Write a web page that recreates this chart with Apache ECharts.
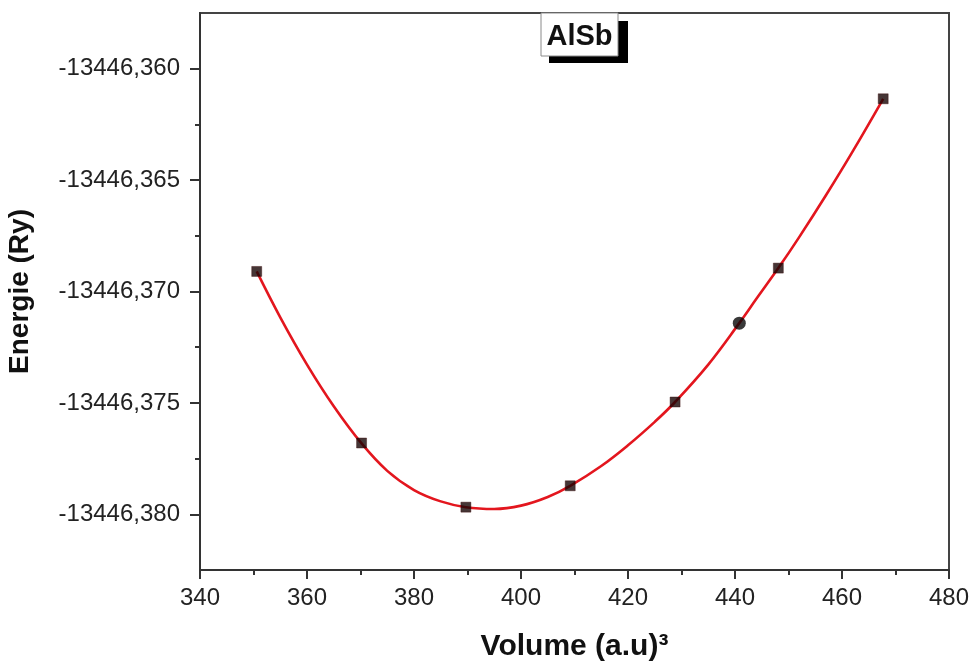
<!DOCTYPE html>
<html>
<head>
<meta charset="utf-8">
<script src="https://cdn.jsdelivr.net/npm/echarts@6/dist/echarts.min.js"></script>
<style>
  html, body { margin: 0; padding: 0; background: #fff; }
  #chart { width: 971px; height: 666px; }
</style>
</head>
<body>
<div id="chart"></div>
<script>
// E(V) points for AlSb (volume in a.u.^3, energy in Ry)
const volumes = [350.6, 370.2, 389.7, 409.2, 428.8, 448.1, 467.7];
const energies = [-13446.3691, -13446.3768, -13446.37968, -13446.37872, -13446.37496, -13446.36895, -13446.36135];

// extra point marked with a round symbol
const circleVolume = [440.8];
const circleEnergy = [-13446.37142];

// fitted E(V) curve, sampled along its length
const fitVolumes = [350.6, 355, 360, 365, 370.2, 375, 380, 385, 389.7, 395, 400, 405,
                    409.2, 415, 420, 425, 428.8, 435, 440.8, 444, 448.1, 452, 457, 462, 467.7];
const fitEnergies = [-13446.36910, -13446.37116, -13446.37328, -13446.37515, -13446.37682,
                     -13446.37805, -13446.37891, -13446.37942, -13446.37968, -13446.37976,
                     -13446.37961, -13446.37922, -13446.37872, -13446.37783, -13446.37690,
                     -13446.37585, -13446.37496, -13446.37328, -13446.37142, -13446.37033,
                     -13446.36895, -13446.36756, -13446.36568, -13446.36371, -13446.36135];

// axis ticks
const xTicks = [340, 360, 380, 400, 420, 440, 460, 480];
const yTicks = [-13446.380, -13446.375, -13446.370, -13446.365, -13446.360];
const yMinorTicks = [-13446.3775, -13446.3725, -13446.3675, -13446.3625];

const FONT = '"Liberation Sans", Arial, sans-serif';

const squarePts = volumes.map((v, i) => [v, energies[i]]);
const circlePts = circleVolume.map((v, i) => [v, circleEnergy[i]]);
const fitPts = fitVolumes.map((v, i) => [v, fitEnergies[i]]);

const chart = echarts.init(document.getElementById('chart'), null, { renderer: 'canvas' });

chart.setOption({
  backgroundColor: '#ffffff',
  animation: false,
  // framed compound label with a solid drop shadow
  graphic: [{
    type: 'group',
    z: 100,
    children: [{
      type: 'rect',
      shape: { x: 549, y: 21, width: 79, height: 42 },
      style: { fill: '#000000' }
    }, {
      type: 'rect',
      shape: { x: 541, y: 13, width: 77, height: 43 },
      style: { fill: '#ffffff', stroke: '#8a8a8a', lineWidth: 1 }
    }, {
      type: 'text',
      style: {
        text: 'AlSb', x: 579.5, y: 37, align: 'center', verticalAlign: 'middle',
        font: 'bold 29px "Liberation Sans", Arial, sans-serif', fill: '#111111'
      }
    }]
  }],
  grid: {
    left: 200, right: 22, top: 13, bottom: 96,
    containLabel: false,
    outerBoundsMode: 'none',
    show: true, borderColor: '#444', borderWidth: 2, backgroundColor: 'transparent'
  },
  xAxis: {
    type: 'value',
    min: 340, max: 480, interval: 20,
    name: 'Volume (a.u)³',
    nameLocation: 'middle',
    nameGap: 62,
    nameTextStyle: { fontFamily: FONT, fontSize: 30, fontWeight: 'bold', color: '#111' },
    axisLine: { show: true, onZero: false, lineStyle: { color: '#333', width: 2 } },
    axisTick: { show: true, inside: false, length: 9, customValues: xTicks, lineStyle: { color: '#333', width: 2 } },
    minorTick: { show: true, splitNumber: 2, length: 5, lineStyle: { color: '#333', width: 2 } },
    axisLabel: { customValues: xTicks, margin: 16, fontFamily: FONT, fontSize: 24, color: '#222' },
    splitLine: { show: false }
  },
  yAxis: [{
    type: 'value',
    min: -13446.3825, max: -13446.3575,
    name: 'Energie (Ry)',
    nameLocation: 'middle',
    nameRotate: 90,
    nameGap: 166,
    nameTextStyle: { fontFamily: FONT, fontSize: 28, fontWeight: 'bold', color: '#111' },
    axisLine: { show: true, onZero: false, lineStyle: { color: '#333', width: 2 } },
    axisTick: { show: true, inside: false, length: 10, customValues: yTicks, lineStyle: { color: '#333', width: 2 } },
    axisLabel: {
      customValues: yTicks, margin: 20, fontFamily: FONT, fontSize: 24, color: '#222',
      formatter: v => v.toFixed(3).replace('.', ',')
    },
    splitLine: { show: false }
  }, {
    // short intermediate ticks on the energy axis
    type: 'value',
    position: 'left',
    min: -13446.3825, max: -13446.3575,
    axisLine: { show: false, onZero: false },
    axisTick: { show: true, inside: false, length: 5, customValues: yMinorTicks, lineStyle: { color: '#333', width: 2 } },
    axisLabel: { show: false },
    splitLine: { show: false }
  }],
  series: [{
    name: 'fit',
    type: 'line',
    data: fitPts,
    smooth: 0.4,
    showSymbol: false,
    symbol: 'none',
    lineStyle: { color: '#e3161e', width: 2.6 },
    z: 2
  }, {
    name: 'points',
    type: 'scatter',
    data: squarePts,
    symbol: 'rect',
    symbolSize: 10,
    itemStyle: { color: '#160404', borderColor: '#3a0808', borderWidth: 0.5 },
    z: 3
  }, {
    name: 'circle',
    type: 'scatter',
    data: circlePts,
    symbol: 'circle',
    symbolSize: 13,
    itemStyle: { color: '#080808' },
    z: 3
  }]
});
</script>
</body>
</html>
